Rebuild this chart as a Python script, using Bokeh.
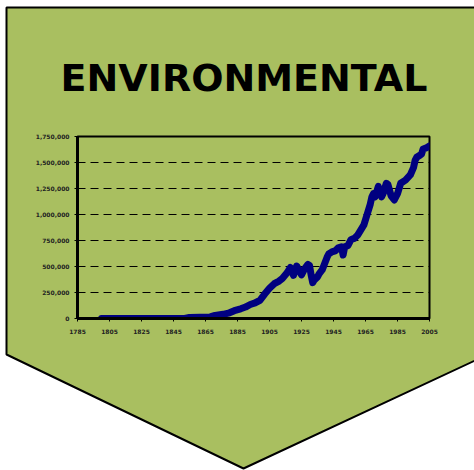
from bokeh.plotting import figure
from bokeh.models import FixedTicker, NumeralTickFormatter, Range1d
from bokeh.core.properties import value
from bokeh.embed import file_html
from bokeh.resources import INLINE

# ---- data ----
years = [1800, 1852, 1855, 1868, 1871, 1876, 1880, 1883, 1887, 1890, 1893, 1896, 1899,
         1902, 1905, 1908, 1911, 1913, 1916, 1918, 1920, 1922, 1925, 1927, 1929, 1930,
         1931, 1932, 1933, 1935, 1936, 1938, 1939, 1941, 1942, 1944, 1946, 1948, 1950,
         1951, 1952, 1954, 1956, 1958, 1960, 1962, 1964, 1966, 1968, 1969, 1970, 1971,
         1973, 1975, 1976, 1978, 1979, 1981, 1983, 1985, 1987, 1990, 1993, 1995, 1996,
         1997, 1999, 2000, 2001, 2003, 2005]
values = [0, 0, 10000, 15000, 30000, 40000, 55000, 75000, 93000, 110000, 135000, 150000, 175000,
          235000, 290000, 335000, 360000, 385000, 440000, 490000, 415000, 505000, 420000, 480000, 520000, 510000,
          420000, 345000, 370000, 400000, 430000, 470000, 510000, 590000, 620000, 640000, 650000, 680000, 690000,
          610000, 690000, 700000, 760000, 770000, 800000, 850000, 900000, 1000000, 1100000, 1170000, 1200000, 1170000,
          1270000, 1170000, 1200000, 1300000, 1290000, 1180000, 1140000, 1200000, 1300000, 1330000, 1380000, 1450000, 1520000,
          1550000, 1570000, 1580000, 1630000, 1640000, 1660000]
x_ticks = list(range(1785, 2006, 20))
y_ticks = list(range(0, 1750001, 250000))
grid_ticks = list(range(250000, 1500001, 250000))
title_text = "ENVIRONMENTAL"

GREEN = "#A9BF60"
W, H = 474, 470
FL, FR, FT, FB = 77, 429, 136, 318  # chart frame edges in canvas pixels

# ---- background banner (pixel space) ----
bg = figure(width=W, height=H, output_backend="svg", toolbar_location=None,
            x_range=Range1d(0, W), y_range=Range1d(H, 0),
            x_axis_type=None, y_axis_type=None,
            min_border=0, min_border_left=0, min_border_right=0,
            min_border_top=0, min_border_bottom=0)
bg.outline_line_color = None
bg.border_fill_color = "white"
bg.background_fill_color = "white"
bg.grid.visible = False
bg.patch([6, 481, 481, 243, 6], [7, 7, 357, 468, 354],
         fill_color=GREEN, line_color="black", line_width=2)
bg.text(x=[243.5], y=[77.5], text=[title_text], text_align="center",
        text_baseline="middle", text_font=value("DejaVu Sans"),
        text_font_style="bold", text_font_size="38px", text_color="black")

# ---- chart, overlaid on the banner ----
p = figure(width=W, height=H, output_backend="svg", toolbar_location=None,
           x_range=Range1d(1785, 2005), y_range=Range1d(0, 1750000),
           min_border_left=FL, min_border_right=W - FR,
           min_border_top=FT, min_border_bottom=H - FB)
p.styles = {"position": "absolute", "top": "0px", "left": "0px"}
p.border_fill_color = None
p.background_fill_color = None
p.outline_line_color = "black"
p.outline_line_width = 2

p.line(years, values, line_width=7, line_color="#000080", line_join="round", line_cap="round")

p.xgrid.visible = False
p.ygrid.ticker = FixedTicker(ticks=grid_ticks)
p.ygrid.grid_line_color = "black"
p.ygrid.grid_line_dash = "8 5"
p.ygrid.grid_line_width = 1

p.xaxis.ticker = FixedTicker(ticks=x_ticks)
p.yaxis.ticker = FixedTicker(ticks=y_ticks)
p.yaxis.formatter = NumeralTickFormatter(format="0,0")
for ax in (p.xaxis, p.yaxis):
    ax.axis_line_width = 3
    ax.axis_line_color = "black"
    ax.major_tick_out = 3
    ax.major_tick_in = 0
    ax.major_tick_line_color = "black"
    ax.minor_tick_line_color = None
    ax.major_label_text_font = "DejaVu Sans"
    ax.major_label_text_font_size = "6px"
    ax.major_label_text_font_style = "bold"
    ax.major_label_text_color = "#222222"
p.xaxis.major_label_standoff = 7
p.yaxis.major_label_standoff = 5

open("out.html", "w").write(file_html([bg, p], INLINE))
